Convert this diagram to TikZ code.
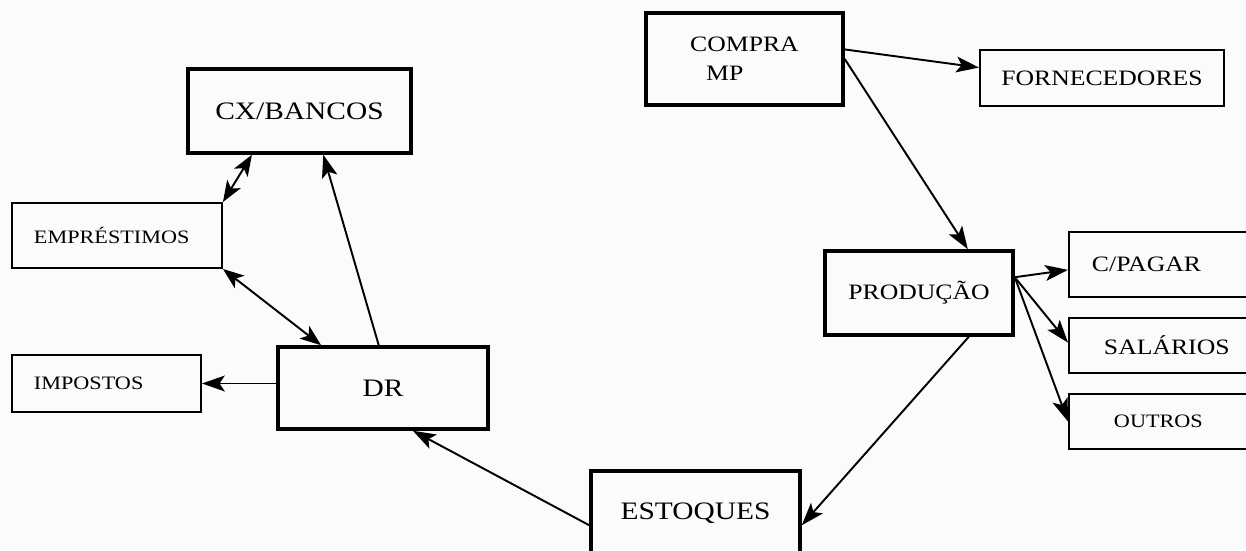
\documentclass[tikz,border=0pt]{standalone}
\usepackage{fontspec}
\setmainfont{Liberation Serif}[FakeStretch=1.17]
\usepackage{tikz}
\usetikzlibrary{calc}
\usetikzlibrary{arrows.meta}
\definecolor{paper}{RGB}{251, 251, 251}
\tikzset{
    bigbox/.style   = {draw, line width=2.0pt, inner sep=0pt},
    smallbox/.style = {draw, line width=1.1pt, anchor=west, align=left},
    largefont/.style = {font=\fontsize{14.3}{17}\selectfont},
    midfont/.style   = {font=\fontsize{12.5}{16.5}\selectfont},
    smallfont/.style = {font=\fontsize{10.8}{13}\selectfont},
    flow/.style     = {line width=1.1pt, -{Stealth[length=13pt, width=9pt, inset=3pt]}},
    twoway/.style   = {line width=1.1pt, {Stealth[length=12pt, width=9pt, inset=3pt]}-{Stealth[length=12pt, width=9pt, inset=3pt]}}
}

\begin{document}
\begin{tikzpicture}
            \fill[paper]                                                                              ( 0.00, 0.00) rectangle (24.92, 11.00);
            \useasboundingbox                                                                         ( 0.00, 0.00) rectangle (24.92, 11.00);
            \node[bigbox,   largefont, minimum width=4.46cm, minimum height=1.68cm]          (cx)   at ( 5.99, 8.78) {CX/BANCOS};
            \node[bigbox,   largefont, minimum width=4.20cm, minimum height=1.64cm]          (dr)   at ( 7.66, 3.24) {DR};
            \node[bigbox,   largefont, minimum width=4.18cm, minimum height=1.68cm]          (est)  at (13.91, 0.74) {ESTOQUES};
            \node[bigbox,   midfont,   minimum width=3.94cm, minimum height=1.84cm, align=left] (com) at (14.89, 9.82) {COMPRA\\\hspace*{0.32cm}MP};
            \node[bigbox,   midfont,   minimum width=3.76cm, minimum height=1.68cm]          (prod) at (18.38, 5.14) {PRODUÇÃO};
            \node[draw, line width=1.1pt, midfont, minimum width=4.88cm, minimum height=1.12cm] (forn) at (22.04, 9.44) {FORNECEDORES};
            \node[smallbox, smallfont, inner xsep=0.44cm, text width=3.32cm, minimum height=1.30cm] (emp)  at ( 0.22, 6.29) {EMPRÉSTIMOS};
            \node[smallbox, smallfont, inner xsep=0.44cm, text width=2.90cm, minimum height=1.14cm] (imp)  at ( 0.22, 3.33) {IMPOSTOS};
            \node[smallbox, midfont,   inner xsep=0.46cm, text width=3.52cm, minimum height=1.30cm] (cpag) at (21.36, 5.71) {C/PAGAR};
            \node[smallbox, midfont,   inner xsep=0.70cm, text width=3.04cm, minimum height=1.10cm] (sal)  at (21.36, 4.09) {SALÁRIOS};
            \node[smallbox, smallfont, inner xsep=0.90cm, text width=2.64cm, minimum height=1.10cm] (out)  at (21.36, 2.57) {OUTROS};
            \draw[twoway] (emp.north east) -- ($(cx.south west)!0.29!(cx.south east)$);
            \draw[twoway] (emp.south east) -- ($(dr.north west)!0.21!(dr.north east)$);
            \draw[flow]   ($(dr.north west)!0.48!(dr.north east)$) -- ($(cx.south west)!0.605!(cx.south east)$);
            \draw[flow]   (imp.east -| dr.west) -- (imp.east);
            \draw[flow]   ($(est.north west)!0.64!(est.south west)$) -- ($(dr.south west)!0.64!(dr.south east)$);
            \draw[flow]   ($(prod.south west)!0.76!(prod.south east)$) -- ($(est.north east)!0.64!(est.south east)$);
            \draw[flow]   ($(com.north east)!0.40!(com.south east)$) -- ($(forn.north west)!0.32!(forn.south west)$);
            \draw[flow]   (com.east) -- ($(prod.north west)!0.755!(prod.north east)$);
            \coordinate (fan) at ($(prod.north east)!0.32!(prod.south east)$);
            \draw[flow]   (fan) -- ($(cpag.north west)!0.58!(cpag.south west)$);
            \draw[flow]   (fan) -- ($(sal.north west)!0.45!(sal.south west)$);
            \draw[flow]   (fan) -- (out.west);
\end{tikzpicture}
\end{document}
